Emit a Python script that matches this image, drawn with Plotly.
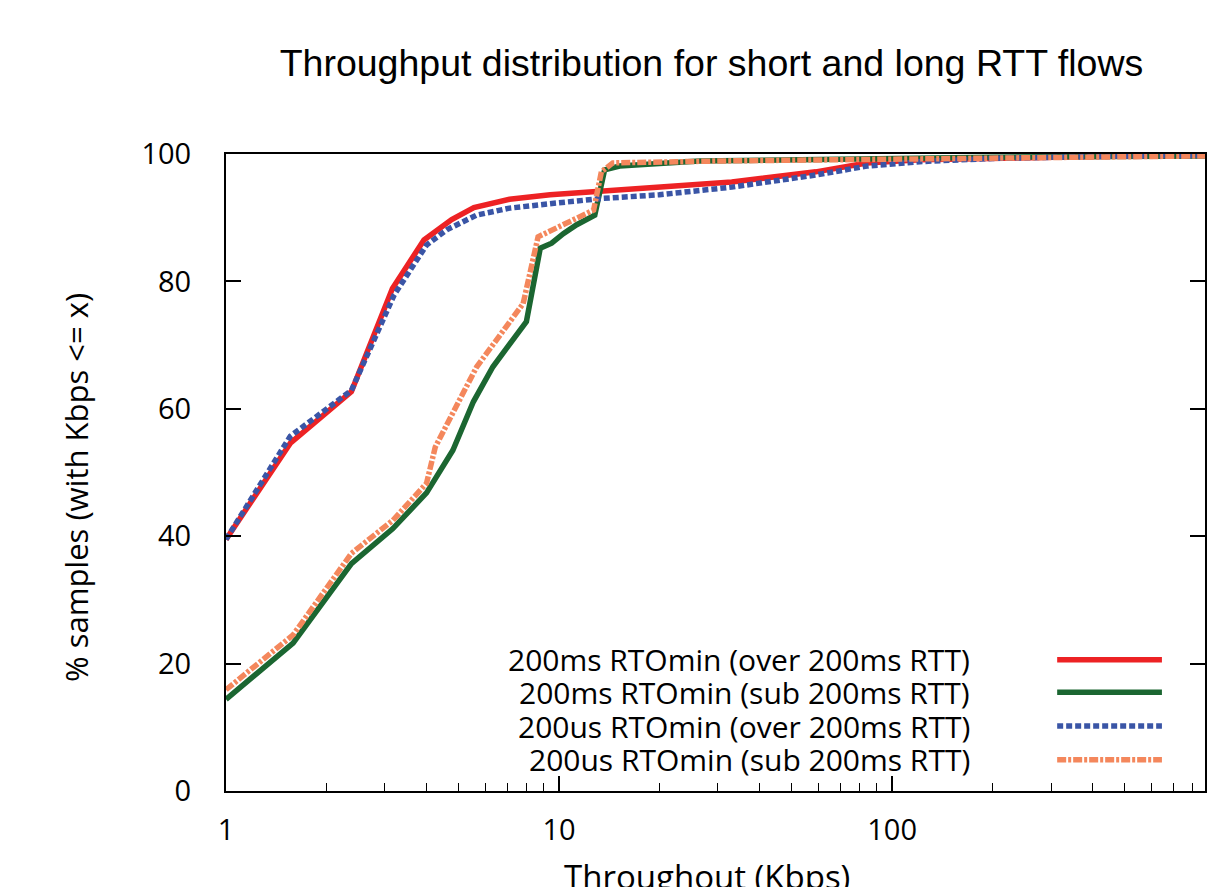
import plotly.graph_objects as go

# series (x in Kbps, y in % samples)
red_x = [1, 1.56, 2.38, 3.16, 3.93, 4.76, 5.55, 7.1, 9.4, 13.3, 20, 33, 59, 84, 121, 200, 400, 870]
red_y = [39.5, 54.6, 62.7, 78.9, 86.5, 89.7, 91.6, 92.9, 93.6, 94.2, 94.7, 95.6, 97.2, 98.6, 99.1, 99.4, 99.6, 99.8]

green_x = [1, 1.59, 2.38, 3.17, 4.0, 4.8, 5.53, 6.33, 7.98, 8.78, 9.5, 10.3, 11.3, 12.8, 13.7, 15.2, 26.4, 50, 100, 200, 870]
green_y = [14.4, 23.2, 35.7, 41.2, 46.8, 53.5, 61.1, 66.6, 73.7, 85.2, 86.0, 87.5, 88.9, 90.4, 97.5, 98.1, 98.9, 99.1, 99.3, 99.5, 99.7]

blue_x = [1, 1.56, 2.38, 3.2, 4.0, 4.6, 5.65, 7.1, 9.4, 13.3, 20, 33, 59, 84, 121, 200, 400, 870]
blue_y = [39.5, 55.7, 62.9, 77.9, 85.7, 88.1, 90.4, 91.5, 92.2, 93.0, 93.6, 94.8, 96.7, 98.1, 98.8, 99.3, 99.6, 99.8]

orange_x = [1, 1.59, 2.38, 3.17, 4.0, 4.25, 5.66, 7.8, 8.65, 10.5, 12.7, 13.4, 14.5, 30, 100, 200, 870]
orange_y = [15.9, 24.5, 37.3, 42.5, 48.3, 54.0, 66.6, 76.5, 87.0, 89.1, 91.2, 97.2, 98.6, 98.9, 99.2, 99.5, 99.7]

names = ["200ms RTOmin (over 200ms RTT)", "200ms RTOmin (sub 200ms RTT)",
         "200us RTOmin (over 200ms RTT)", "200us RTOmin (sub 200ms RTT)"]
colors = ["#ed2224", "#1b6631", "#3a55a6", "#f4875c"]
dashes = ["solid", "solid", "6px,3px", "9px,2px,3px,2px"]

x_ticks = [1, 10, 100]
x_minor = [2, 3, 4, 5, 6, 7, 8, 9, 20, 30, 40, 50, 60, 70, 80, 90, 200, 300, 400, 500, 600, 700, 800]
y_ticks = [0, 20, 40, 60, 80, 100]

text_font = "Open Sans"
black = "black"

fig = go.Figure()
series = [(red_x, red_y), (green_x, green_y), (blue_x, blue_y), (orange_x, orange_y)]
for (xs, ys), name, c, d in zip(series, names, colors, dashes):
    fig.add_trace(go.Scatter(x=xs, y=ys, mode="lines", name=name,
                             line=dict(color=c, width=5.5, dash=d), showlegend=False))

# legend drawn by hand: text right-aligned, line sample on its right
leg_y = [0.206, 0.155, 0.102, 0.049]
for name, c, d, ly in zip(names, colors, dashes, leg_y):
    fig.add_annotation(x=0.762, y=ly, xref="paper", yref="paper", text=name,
                       showarrow=False, xanchor="right", yanchor="middle",
                       font=dict(family=text_font, size=30, color=black))
    fig.add_shape(type="line", xref="paper", yref="paper", x0=0.849, x1=0.956, y0=ly, y1=ly,
                  line=dict(color=c, width=5.5, dash=d))

# axis titles as annotations (placed like the original, x one runs off the bottom edge)
fig.add_annotation(x=-0.153, y=0.476, xref="paper", yref="paper", text="% samples (with Kbps <= x)",
                   textangle=-90, showarrow=False, xanchor="center", yanchor="middle",
                   font=dict(family=text_font, size=31, color=black))
fig.add_annotation(x=0.491, y=-0.134, xref="paper", yref="paper", text="Throughout (Kbps)",
                   showarrow=False, xanchor="center", yanchor="middle",
                   font=dict(family=text_font, size=33, color=black))

xrange = [0, 2.9395]
fig.update_layout(
    width=1210, height=887,
    paper_bgcolor="white", plot_bgcolor="white",
    margin=dict(l=226, r=5, t=154, b=96),
    title=dict(text="Throughput distribution for short and long RTT flows",
               x=0.588, xanchor="center", y=0.929, yanchor="middle",
               font=dict(family="Liberation Sans", size=37.5, color=black)),
    xaxis=dict(type="log", range=xrange, tickvals=x_ticks, ticktext=[str(v) for v in x_ticks],
               ticks="inside", ticklen=15, tickwidth=1.5, tickcolor=black,
               minor=dict(tickvals=x_minor, ticks="inside", ticklen=8, tickwidth=1, tickcolor=black, showgrid=False),
               showline=True, linecolor=black, linewidth=2, mirror=True, showgrid=False, zeroline=False,
               automargin=False, ticklabelstandoff=12,
               tickfont=dict(family=text_font, size=29, color=black)),
    # top copy of the x axis, just for the mirrored major/minor ticks
    xaxis2=dict(type="log", range=xrange, overlaying="x", side="top", showticklabels=False,
                tickvals=x_ticks, ticks="inside", ticklen=15, tickwidth=1.5, tickcolor=black,
                minor=dict(tickvals=x_minor, ticks="inside", ticklen=8, tickwidth=1, tickcolor=black, showgrid=False),
                showline=False, showgrid=False, zeroline=False, automargin=False),
    yaxis=dict(range=[0, 100], tickvals=y_ticks, ticks="inside", ticklen=15, tickwidth=1.5, tickcolor=black,
               showline=True, linecolor=black, linewidth=2, mirror="ticks", showgrid=False, zeroline=False,
               automargin=False, ticklabelstandoff=27,
               tickfont=dict(family=text_font, size=29, color=black)),
)

# drop the default page margin so the figure sits at the window's top-left corner
fig.write_html("out.html", config={"displayModeBar": False},
               post_script="document.body.style.margin='0';document.body.style.overflow='hidden';")
